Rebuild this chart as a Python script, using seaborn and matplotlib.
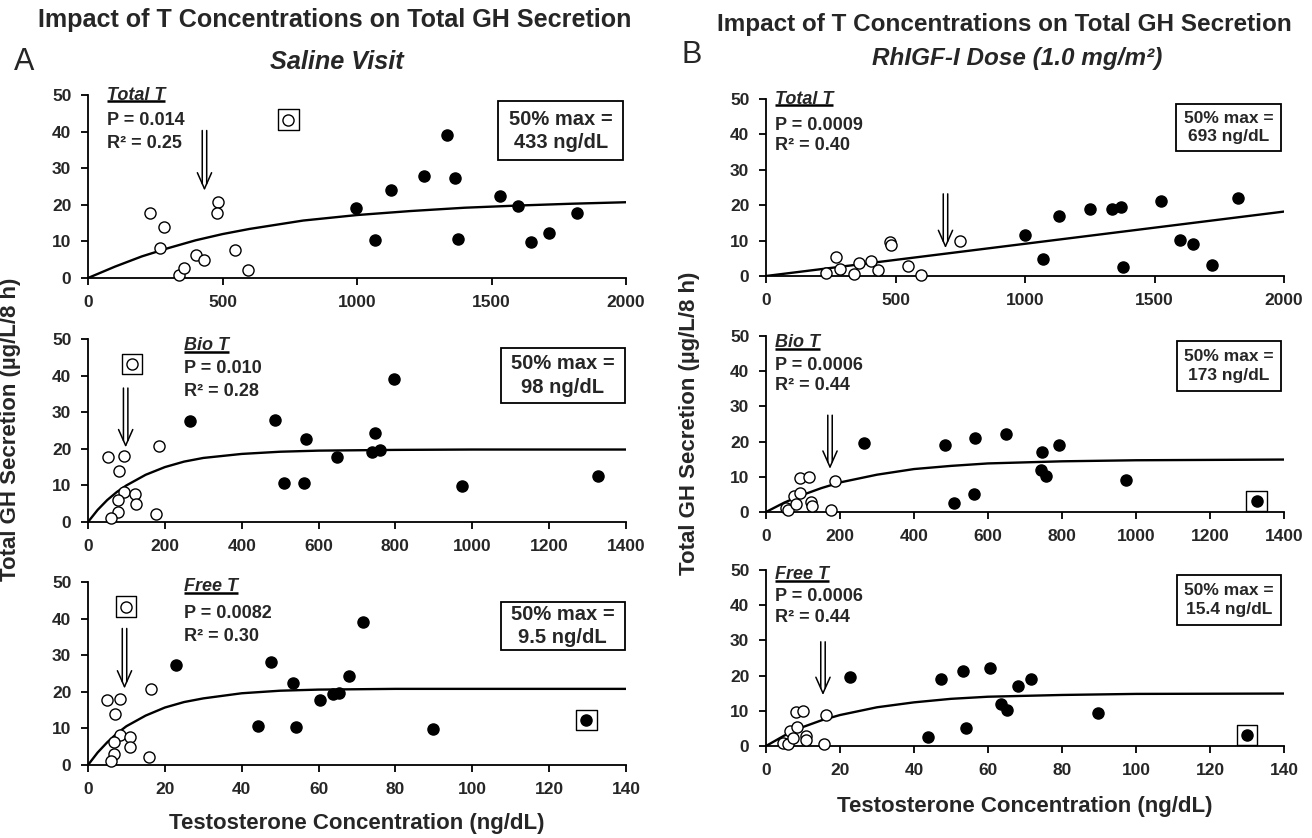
import matplotlib
matplotlib.use("Agg")
import matplotlib.pyplot as plt
import matplotlib.transforms as mtransforms
from matplotlib.patches import Rectangle
import seaborn as sns

# ---- values ----
# Panel A: saline visit
SAL_TOT_OPEN_X = [232, 282, 269, 338, 357, 401, 431, 482, 479, 548, 595, 745]
SAL_TOT_OPEN_Y = [17.8, 13.9, 8.3, 0.9, 2.8, 6.3, 4.8, 20.7, 17.8, 7.6, 2.1, 43.3]
SAL_TOT_FILL_X = [998, 1068, 1128, 1248, 1334, 1364, 1377, 1530, 1597, 1645, 1715, 1817]
SAL_TOT_FILL_Y = [19.2, 10.4, 24.1, 28.0, 39.1, 27.3, 10.6, 22.5, 19.7, 9.7, 12.4, 17.7]
SAL_TOT_FIT_X = [0, 100, 200, 300, 400, 500, 600, 800, 1000, 1200, 1400, 1600, 1800, 2000]
SAL_TOT_FIT_Y = [0, 3.1, 5.9, 8.2, 10.3, 12.0, 13.4, 15.7, 17.2, 18.3, 19.2, 19.8, 20.3, 20.7]
SAL_TOT_BOX_X = [745]
SAL_TOT_BOX_Y = [43.3]

SAL_BIO_OPEN_X = [53, 93, 80, 186, 93, 77, 123, 126, 77, 60, 178, 115]
SAL_BIO_OPEN_Y = [17.7, 17.9, 13.8, 20.7, 8.1, 6.1, 7.7, 4.9, 2.8, 1.0, 2.2, 43.2]
SAL_BIO_FILL_X = [265, 486, 510, 567, 561, 648, 740, 748, 760, 795, 972, 1326]
SAL_BIO_FILL_Y = [27.5, 28.0, 10.7, 22.7, 10.7, 17.8, 19.1, 24.3, 19.8, 39.1, 9.7, 12.5]
SAL_BIO_FIT_X = [0, 25, 50, 75, 100, 150, 200, 250, 300, 400, 500, 600, 800, 1000, 1400]
SAL_BIO_FIT_Y = [0, 3.3, 6.0, 8.2, 10.0, 12.9, 15.0, 16.5, 17.5, 18.6, 19.2, 19.5, 19.7, 19.8, 19.8]
SAL_BIO_BOX_X = [115]
SAL_BIO_BOX_Y = [43.2]

SAL_FREE_OPEN_X = [4.9, 8.2, 7.1, 16.4, 8.2, 6.8, 11.0, 11.0, 6.8, 5.9, 15.8, 9.9]
SAL_FREE_OPEN_Y = [17.8, 17.9, 13.9, 20.9, 8.2, 6.2, 7.7, 4.9, 3.0, 1.1, 2.2, 43.3]
SAL_FREE_FILL_X = [23.0, 47.5, 44.2, 53.4, 54.0, 60.5, 63.8, 65.3, 68.0, 71.5, 89.7, 129.7]
SAL_FREE_FILL_Y = [27.3, 28.1, 10.7, 22.5, 10.5, 17.8, 19.4, 19.8, 24.3, 39.1, 9.7, 12.3]
SAL_FREE_FIT_X = [0, 2.5, 5, 7.5, 10, 15, 20, 25, 30, 40, 50, 60, 80, 140]
SAL_FREE_FIT_Y = [0, 3.4, 6.2, 8.6, 10.6, 13.5, 15.7, 17.2, 18.2, 19.6, 20.3, 20.6, 20.8, 20.8]
SAL_FREE_BOX_X = [9.9, 129.7]
SAL_FREE_BOX_Y = [43.3, 12.3]

# Panel B: rhIGF-I dose
RH_TOT_OPEN_X = [233, 269, 285, 339, 360, 405, 433, 479, 483, 548, 598, 749]
RH_TOT_OPEN_Y = [0.9, 5.4, 2.1, 0.5, 3.7, 4.3, 1.8, 9.7, 8.7, 2.8, 0.4, 10.0]
RH_TOT_FILL_X = [1001, 1071, 1130, 1251, 1335, 1371, 1379, 1525, 1600, 1650, 1721, 1821]
RH_TOT_FILL_Y = [11.6, 4.9, 17.0, 19.0, 18.9, 19.4, 2.6, 21.3, 10.2, 9.0, 3.0, 22.0]
RH_TOT_FIT_X = [0, 2000]
RH_TOT_FIT_Y = [0, 18.2]
RH_TOT_BOX_X = []
RH_TOT_BOX_Y = []

RH_BIO_OPEN_X = [53, 60, 75, 82, 92, 91, 116, 122, 125, 186, 176]
RH_BIO_OPEN_Y = [1.1, 0.5, 4.5, 2.4, 5.4, 9.6, 9.9, 2.9, 1.8, 8.8, 0.5]
RH_BIO_FILL_X = [264, 484, 566, 508, 561, 649, 747, 742, 756, 793, 972, 1326]
RH_BIO_FILL_Y = [19.6, 19.0, 21.1, 2.5, 5.1, 22.1, 17.0, 11.8, 10.3, 18.9, 9.1, 3.2]
RH_BIO_FIT_X = [0, 50, 100, 150, 200, 300, 400, 500, 600, 800, 1000, 1200, 1400]
RH_BIO_FIT_Y = [0, 2.7, 4.9, 6.8, 8.4, 10.6, 12.2, 13.1, 13.8, 14.4, 14.7, 14.8, 14.9]
RH_BIO_BOX_X = [1326]
RH_BIO_BOX_Y = [3.2]

RH_FREE_OPEN_X = [4.6, 6.0, 6.4, 7.3, 8.4, 8.2, 10.0, 10.9, 10.9, 16.3, 15.7]
RH_FREE_OPEN_Y = [0.9, 0.5, 4.4, 2.2, 5.5, 9.6, 9.9, 2.8, 1.7, 8.8, 0.6]
RH_FREE_FILL_X = [22.8, 47.3, 53.2, 43.9, 54.1, 60.6, 63.5, 65.2, 68.0, 71.5, 89.6, 130.0]
RH_FREE_FILL_Y = [19.5, 19.0, 21.3, 2.5, 5.0, 22.1, 11.8, 10.2, 17.0, 19.0, 9.3, 3.1]
RH_FREE_FIT_X = [0, 5, 10, 15, 20, 30, 40, 50, 60, 80, 100, 140]
RH_FREE_FIT_Y = [0, 3.0, 5.4, 7.3, 8.8, 11.0, 12.4, 13.4, 14.0, 14.5, 14.8, 14.9]
RH_FREE_BOX_X = [130.0]
RH_FREE_BOX_Y = [3.1]

# labels and stats per row (Total / Bio / Free)
ROW_NAMES = ["Total T", "Bio T", "Free T"]
ROW_XMAX = [2000, 1400, 140]
ROW_XSTEP = [500, 200, 20]
SAL_P = ["P = 0.014", "P = 0.010", "P = 0.0082"]
SAL_R2 = ["0.25", "0.28", "0.30"]
SAL_HALFMAX = ["433 ng/dL", "98 ng/dL", "9.5 ng/dL"]
RH_P = ["P = 0.0009", "P = 0.0006", "P = 0.0006"]
RH_R2 = ["0.40", "0.44", "0.44"]
RH_HALFMAX = ["693 ng/dL", "173 ng/dL", "15.4 ng/dL"]

# arrows: x at 50% max, shaft top and tip in y units
SAL_ARROW_X = [433, 98, 9.5]
SAL_ARROW_TOP = [40.3, 36.6, 37.3]
SAL_ARROW_TIP = [24.4, 20.9, 21.4]
RH_ARROW_X = [693, 173, 15.4]
RH_ARROW_TOP = [23.2, 27.5, 29.6]
RH_ARROW_TIP = [8.4, 12.8, 15.0]


def pack(ox, oy, fx, fy, cx, cy, bx, by):
    return dict(open_x=ox, open_y=oy, fill_x=fx, fill_y=fy,
                fit_x=cx, fit_y=cy, box_x=bx, box_y=by)


SAL_PANELS = [
    pack(SAL_TOT_OPEN_X, SAL_TOT_OPEN_Y, SAL_TOT_FILL_X, SAL_TOT_FILL_Y,
         SAL_TOT_FIT_X, SAL_TOT_FIT_Y, SAL_TOT_BOX_X, SAL_TOT_BOX_Y),
    pack(SAL_BIO_OPEN_X, SAL_BIO_OPEN_Y, SAL_BIO_FILL_X, SAL_BIO_FILL_Y,
         SAL_BIO_FIT_X, SAL_BIO_FIT_Y, SAL_BIO_BOX_X, SAL_BIO_BOX_Y),
    pack(SAL_FREE_OPEN_X, SAL_FREE_OPEN_Y, SAL_FREE_FILL_X, SAL_FREE_FILL_Y,
         SAL_FREE_FIT_X, SAL_FREE_FIT_Y, SAL_FREE_BOX_X, SAL_FREE_BOX_Y),
]
RH_PANELS = [
    pack(RH_TOT_OPEN_X, RH_TOT_OPEN_Y, RH_TOT_FILL_X, RH_TOT_FILL_Y,
         RH_TOT_FIT_X, RH_TOT_FIT_Y, RH_TOT_BOX_X, RH_TOT_BOX_Y),
    pack(RH_BIO_OPEN_X, RH_BIO_OPEN_Y, RH_BIO_FILL_X, RH_BIO_FILL_Y,
         RH_BIO_FIT_X, RH_BIO_FIT_Y, RH_BIO_BOX_X, RH_BIO_BOX_Y),
    pack(RH_FREE_OPEN_X, RH_FREE_OPEN_Y, RH_FREE_FILL_X, RH_FREE_FILL_Y,
         RH_FREE_FIT_X, RH_FREE_FIT_Y, RH_FREE_BOX_X, RH_FREE_BOX_Y),
]

# ---- layout (pixels of a 1312x838 canvas) ----
W, H = 1312, 838
# (left, right, top, bottom) of each axes
SAL_AXES = [(88, 626, 95, 278), (88, 626, 339, 522), (88, 626, 582, 765)]
RH_AXES = [(766, 1284, 99, 276), (766, 1284, 336, 512), (766, 1284, 570, 746)]
# text block in axes fraction: x, name y, P y, R2 y
SAL_TXT = [(0.035, 1.0, 0.86, 0.736), (0.178, 0.967, 0.84, 0.712), (0.178, 0.974, 0.83, 0.70)]
RH_TXT = [(0.017, 1.0, 0.853, 0.74), (0.017, 0.962, 0.832, 0.717), (0.017, 0.972, 0.847, 0.728)]
# 50% max box in axes fraction: x0, x1, y0, y1
SAL_BOX = [(0.762, 0.995, 0.643, 0.965), (0.767, 0.998, 0.650, 0.951), (0.767, 0.998, 0.628, 0.893)]
RH_BOX = [(0.792, 0.995, 0.706, 0.970), (0.793, 0.995, 0.686, 0.970), (0.793, 0.995, 0.686, 0.970)]

sns.set_style("ticks")
plt.rcParams["font.family"] = ["Liberation Sans", "DejaVu Sans"]
plt.rcParams["axes.linewidth"] = 1.3

fig = plt.figure(figsize=(W / 100, H / 100), dpi=100)


def px_axes(box):
    l, r, t, b = box
    return fig.add_axes([l / W, 1 - b / H, (r - l) / W, (b - t) / H])


def draw_arrow(ax, x, y_top, y_tip):
    # two parallel shafts with an open V head
    for dx in (-1.6, 1.6):
        t_top = mtransforms.offset_copy(ax.transData, fig=fig, x=dx, y=0, units="points")
        t_bot = mtransforms.offset_copy(ax.transData, fig=fig, x=dx, y=3.6, units="points")
        ax.annotate("", xy=(x, y_tip), xycoords=t_bot, xytext=(x, y_top), textcoords=t_top,
                    arrowprops=dict(arrowstyle="-", lw=1.1, color="black", shrinkA=0, shrinkB=0))
        ax.annotate("", xy=(x, y_tip), xytext=(dx * 3.2, 11.5), textcoords="offset points",
                    arrowprops=dict(arrowstyle="-", lw=1.1, color="black", shrinkA=0, shrinkB=0))


name_texts = []


def draw_panel(ax, p, i, p_txt, r2, halfmax, arrow, txt, box, box_size):
    sns.lineplot(x=p["fit_x"], y=p["fit_y"], ax=ax, color="black", linewidth=1.7,
                 estimator=None, sort=False)
    sns.scatterplot(x=p["open_x"], y=p["open_y"], ax=ax, color="white", edgecolor="black",
                    linewidth=1.0, s=64, zorder=3, clip_on=False)
    sns.scatterplot(x=p["fill_x"], y=p["fill_y"], ax=ax, color="black", edgecolor="black",
                    linewidth=1.0, s=64, zorder=3, clip_on=False)
    if p["box_x"]:
        sns.scatterplot(x=p["box_x"], y=p["box_y"], ax=ax, marker="s", s=215,
                        facecolor="none", edgecolor="black", linewidth=1.0, zorder=2,
                        clip_on=False)

    ax.set_xlim(0, ROW_XMAX[i])
    ax.set_ylim(0, 50)
    ax.set_xticks(range(0, ROW_XMAX[i] + 1, ROW_XSTEP[i]))
    ax.set_yticks(range(0, 51, 10))
    ax.set_xlabel("")
    ax.set_ylabel("")
    sns.despine(ax=ax)
    for s in ("left", "bottom"):
        ax.spines[s].set_color("black")
        ax.spines[s].set_linewidth(1.3)
    ax.tick_params(axis="both", length=5, width=1.3, color="black", labelsize=12.5)
    ax.tick_params(axis="x", pad=7)
    ax.tick_params(axis="y", pad=7)
    for lab in ax.get_xticklabels() + ax.get_yticklabels():
        lab.set_fontweight("bold")

    draw_arrow(ax, *arrow)

    tx, ty_name, ty_p, ty_r = txt
    t = ax.text(tx, ty_name, ROW_NAMES[i], transform=ax.transAxes, fontsize=13,
                fontweight="bold", fontstyle="italic", va="center", ha="left")
    name_texts.append((ax, t))
    ax.text(tx, ty_p, p_txt, transform=ax.transAxes, fontsize=13, fontweight="bold",
            va="center", ha="left")
    ax.text(tx, ty_r, "R\u00b2 = " + r2, transform=ax.transAxes, fontsize=13,
            fontweight="bold", va="center", ha="left")

    x0, x1, y0, y1 = box
    ax.add_patch(Rectangle((x0, y0), x1 - x0, y1 - y0, transform=ax.transAxes, fill=False,
                           edgecolor="black", linewidth=1.3, clip_on=False, zorder=4))
    ax.text((x0 + x1) / 2, (y0 + y1) / 2, "50% max =\n" + halfmax, transform=ax.transAxes,
            fontsize=box_size, fontweight="bold", ha="center", va="center",
            linespacing=1.3, zorder=5)


for i in range(3):
    ax = px_axes(SAL_AXES[i])
    draw_panel(ax, SAL_PANELS[i], i, SAL_P[i], SAL_R2[i], SAL_HALFMAX[i],
               (SAL_ARROW_X[i], SAL_ARROW_TOP[i], SAL_ARROW_TIP[i]),
               SAL_TXT[i], SAL_BOX[i], 14.5)
    ax = px_axes(RH_AXES[i])
    draw_panel(ax, RH_PANELS[i], i, RH_P[i], RH_R2[i], RH_HALFMAX[i],
               (RH_ARROW_X[i], RH_ARROW_TOP[i], RH_ARROW_TIP[i]),
               RH_TXT[i], RH_BOX[i], 12.5)

# headers
title = "Impact of T Concentrations on Total GH Secretion"
fig.text(38 / W, 1 - 20 / H, title, fontsize=18.1, fontweight="bold", ha="left", va="center")
fig.text(717 / W, 1 - 25 / H, title, fontsize=17.5, fontweight="bold", ha="left", va="center")
fig.text(14 / W, 1 - 62 / H, "A", fontsize=22, ha="left", va="center")
fig.text(682 / W, 1 - 55 / H, "B", fontsize=22, ha="left", va="center")
fig.text(270 / W, 1 - 62 / H, "Saline Visit", fontsize=18.2, fontweight="bold",
         fontstyle="italic", ha="left", va="center")
fig.text(872 / W, 1 - 59 / H, "RhIGF-I Dose (1.0 mg/m\u00b2)", fontsize=17.5,
         fontweight="bold", fontstyle="italic", ha="left", va="center")

ylab = "Total GH Secretion (\u00b5g/L/8 h)"
xlab = "Testosterone Concentration (ng/dL)"
fig.text(11 / W, 1 - 429 / H, ylab, rotation=90, fontsize=16, fontweight="bold",
         ha="center", va="center")
fig.text(690 / W, 1 - 423 / H, ylab, rotation=90, fontsize=16, fontweight="bold",
         ha="center", va="center")
fig.text(357 / W, 1 - 823 / H, xlab, fontsize=16, fontweight="bold", ha="center", va="center")
fig.text(1025 / W, 1 - 806 / H, xlab, fontsize=16, fontweight="bold", ha="center", va="center")

# underline the measure names, just under the baseline
fig.canvas.draw()
for ax, t in name_texts:
    bb = t.get_window_extent()
    inv = ax.transAxes.inverted()
    (ux0, uy), (ux1, _) = inv.transform([(bb.x0, bb.y0 + 2.0), (bb.x1, bb.y0)])
    ax.plot([ux0, ux1], [uy, uy], transform=ax.transAxes, color="black", linewidth=1.8,
            clip_on=False, solid_capstyle="butt")

fig.savefig("out.png", dpi=100)
